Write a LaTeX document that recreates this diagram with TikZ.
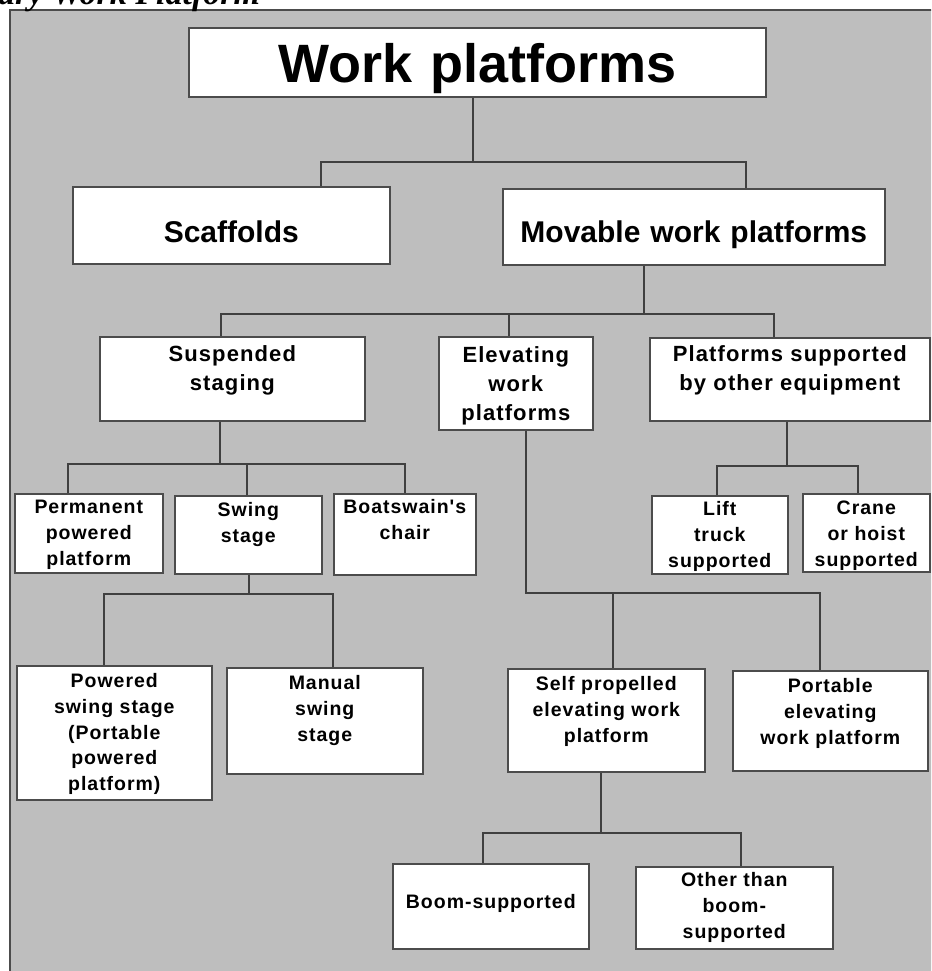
\documentclass[tikz,border=0pt]{standalone}
\usepackage{fontspec}
\setmainfont{Liberation Sans}
\newfontfamily\boxfont[LetterSpace=5]{Liberation Sans}
\newfontfamily\capfont{Liberation Serif}
\definecolor{panel}{RGB}{190,190,190}

\begin{document}
\begin{tikzpicture}[x=1pt, y=-1pt,
box/.style={draw=black!70, fill=white, line width=1.6pt, anchor=north west, inner sep=0pt, align=center},
link/.style={draw=black!75, line width=1.6pt},
big/.style={font=\bfseries\fontsize{#1}{#1}\selectfont},
mid/.style={font=\boxfont\bfseries\fontsize{22}{29}\selectfont},
small/.style={font=\boxfont\bfseries\fontsize{19.5}{25.6}\selectfont}]
\path[use as bounding box, clip] (0,0) rectangle (931,971);
\fill[panel] (10,10) rectangle (950,990);
\draw[black!70, line width=2pt] (950,10) -- (10,10) -- (10,990);
\node[anchor=base west, inner sep=0pt, font=\capfont\bfseries\itshape\fontsize{34}{34}\selectfont] (cap) at (-2,5) {ary Work Platform};

\node[box, big=54, text width=577pt, text height=55pt, text depth=14pt] (wp) at (188,27) {Work platforms};
\node[box, big=30, text width=317pt, text height=56pt, text depth=21pt] (scaf) at (72,186) {Scaffolds};
\node[box, big=30, text width=382pt, text height=54pt, text depth=22pt] (mov) at (502,188) {Movable work platforms};

\node[box, mid, text width=265pt, text height=25pt, text depth=59pt] (susp) at (99,336) {Suspended\\staging};
\node[box, mid, text width=154pt, text height=26pt, text depth=67pt] (elev) at (438,336) {Elevating\\work\\platforms};
\node[box, mid, text width=280pt, text height=24pt, text depth=59pt] (pso) at (649,337) {Platforms supported\\by other equipment};

\node[box, small, text width=148pt, text height=20pt, text depth=59pt] (perm) at (14,493) {Permanent\\powered\\platform};
\node[box, small, text width=147pt, text height=21pt, text depth=57pt] (swing) at (174,495) {Swing\\stage};
\node[box, small, text width=142pt, text height=20pt, text depth=61pt] (boat) at (333,493) {Boatswain's\\chair};
\node[box, small, text width=136pt, text height=20pt, text depth=58pt] (lift) at (651,495) {Lift\\truck\\supported};
\node[box, small, text width=127pt, text height=21pt, text depth=57pt] (crane) at (802,493) {Crane\\or hoist\\supported};

\node[box, small, text width=195pt, text height=22pt, text depth=112pt] (pow) at (16,665) {Powered\\swing stage\\(Portable\\powered\\platform)};
\node[box, small, text width=196pt, text height=22pt, text depth=84pt] (man) at (226,667) {Manual\\swing\\stage};
\node[box, small, text width=197pt, text height=22pt, text depth=81pt] (self) at (507,668) {Self propelled\\elevating work\\platform};
\node[box, small, text width=195pt, text height=22pt, text depth=78pt] (port) at (732,670) {Portable\\elevating\\work platform};

\node[box, small, text width=196pt, text height=45pt, text depth=40pt] (boom) at (392,863) {Boom-supported};
\node[box, small, text width=197pt, text height=20pt, text depth=62pt] (other) at (635,866) {Other than\\boom-\\supported};

\coordinate (j1) at (473,162);
\draw[link] (wp.south -| j1) -- (j1) -| (scaf.north -| 321,0);
\draw[link] (j1) -| (mov.north -| 746,0);

\coordinate (j2) at (644,314);
\draw[link] (mov.south -| j2) -- (j2) -| (susp.north -| 221,0);
\draw[link] (j2) -| (elev.north -| 509,0);
\draw[link] (j2) -| (pso.north -| 774,0);

\coordinate (j3) at (220,464);
\draw[link] (susp.south -| j3) -- (j3) -| (perm.north -| 68,0);
\draw[link] (j3) -| (swing.north -| 247,0);
\draw[link] (j3) -| (boat.north -| 405,0);

\coordinate (j6) at (787,466);
\draw[link] (pso.south -| j6) -- (j6) -| (lift.north -| 717,0);
\draw[link] (j6) -| (crane.north -| 858,0);

\coordinate (j4) at (249,594);
\draw[link] (swing.south -| j4) -- (j4) -| (pow.north -| 104,0);
\draw[link] (j4) -| (man.north -| 333,0);

\coordinate (j5) at (526,593);
\draw[link] (elev.south -| j5) -- (j5) -| (self.north -| 613,0);
\draw[link] (j5) -| (port.north -| 820,0);

\coordinate (j7) at (601,833);
\draw[link] (self.south -| j7) -- (j7) -| (boom.north -| 483,0);
\draw[link] (j7) -| (other.north -| 741,0);
\end{tikzpicture}
\end{document}
